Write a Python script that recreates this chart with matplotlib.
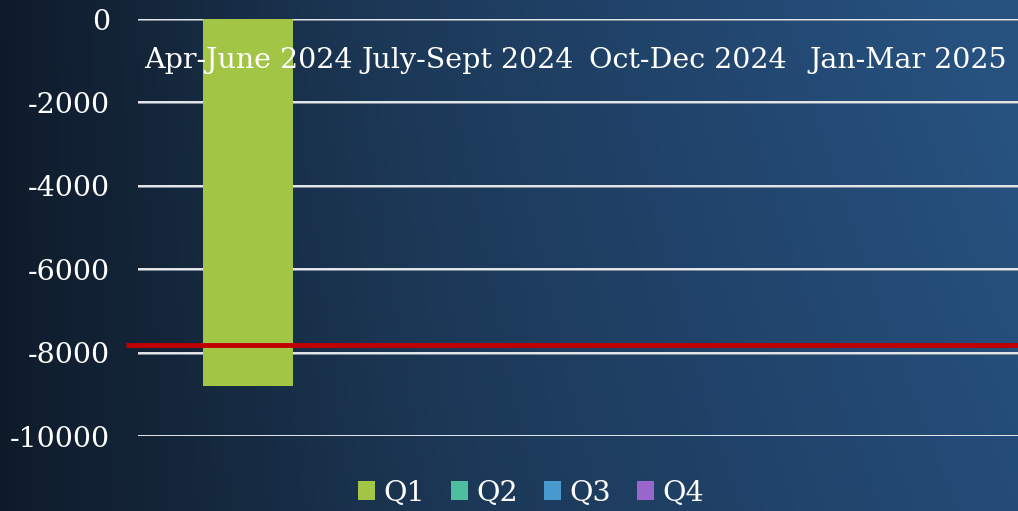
import numpy as np
import matplotlib
matplotlib.use("Agg")
import matplotlib.pyplot as plt
from matplotlib.colors import LinearSegmentedColormap

categories = ["Apr-June 2024", "July-Sept 2024", "Oct-Dec 2024", "Jan-Mar 2025"]
series = ["Q1", "Q2", "Q3", "Q4"]
q1_values = [-8800, None, None, None]
reference_value = -7820
yticks = [0, -2000, -4000, -6000, -8000, -10000]

series_colors = ["#a2c545", "#4dbf9e", "#4799ce", "#9966cc"]
font = "DejaVu Serif"
fs = 20.5

fig = plt.figure(figsize=(10.18, 5.11), dpi=100)

# background gradient
bg = fig.add_axes([0, 0, 1, 1], zorder=-10)
bg.set_axis_off()
cmap = LinearSegmentedColormap.from_list("bg", ["#0e1a29", "#14263a", "#1c3857", "#21446b", "#27517f"])
gx = np.linspace(0, 1, 400)
gy = np.linspace(0, 1, 200)
GX, GY = np.meshgrid(gx, gy)
G = np.clip(GX ** 0.75 * (0.9 + 0.15 * (1 - GY)), 0, 1)
bg.imshow(G, cmap=cmap, aspect="auto", extent=[0, 1, 0, 1], origin="upper")
bg.set_xlim(0, 1)
bg.set_ylim(0, 1)

ax = fig.add_axes([138/1018, (511-436)/511, 1 - 138/1018, (436-19)/511])
ax.patch.set_alpha(0)
for s in ax.spines.values():
    s.set_visible(False)

x = np.arange(len(categories))
ax.set_xlim(-0.5, len(categories) - 0.5)
ax.set_ylim(-10000, 0)

# gridlines with subtle shadow
for yv in yticks:
    ax.axhline(yv, color="#8a96a3", lw=2.0, zorder=1)
    ax.axhline(yv, color="white", lw=1.1, zorder=1.1)

vals = [np.nan if v is None else v for v in q1_values]
ax.bar(x, vals, width=0.405, color=series_colors[0], zorder=2, label=series[0])
for name, c in zip(series[1:], series_colors[1:]):
    ax.bar([0], [np.nan], color=c, label=name)

# reference line
ax.plot([-0.555, len(categories) - 0.5], [reference_value, reference_value],
        color="#c00000", lw=3.5, zorder=3, clip_on=False, solid_capstyle="butt")

ax.set_yticks(yticks)
ax.set_yticklabels([str(v) for v in yticks], fontsize=fs, family=font, color="white")
ax.tick_params(axis="y", length=0, pad=20)
ax.set_xticks([])

for xi, lab in zip(x, categories):
    ax.text(xi, 0.90, lab, transform=ax.get_xaxis_transform(), ha="center", va="center",
            fontsize=fs, family=font, color="white", zorder=4)

leg = fig.legend(loc="center", bbox_to_anchor=(531/1018, 1 - 493/511), ncol=4, frameon=False,
                 prop={"family": font, "size": fs}, handlelength=0.6, handleheight=0.6,
                 handletextpad=0.3, columnspacing=0.9, labelcolor="white")

fig.savefig("out.png", dpi=100)
